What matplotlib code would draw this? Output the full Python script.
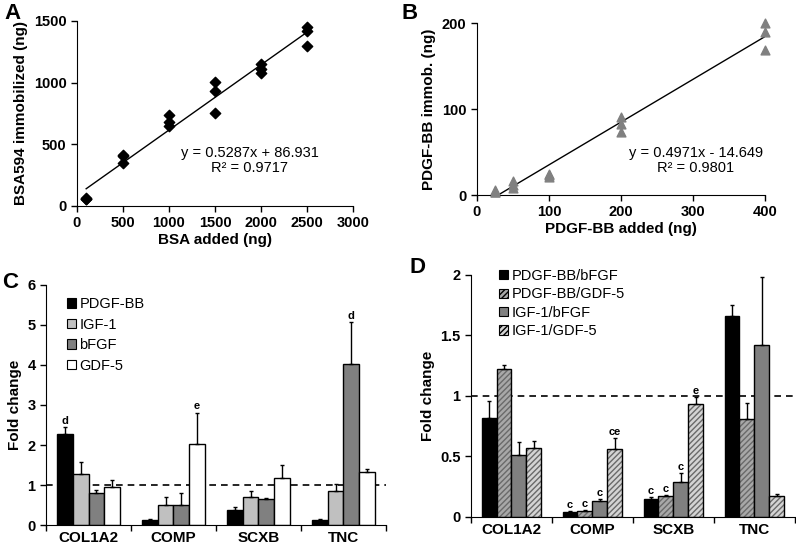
import matplotlib.pyplot as plt
from matplotlib.patches import Patch
import numpy as np

plt.rcParams['font.family'] = ['Liberation Sans', 'DejaVu Sans']

# Panel A: BSA immobilization
a_x = [100, 100, 100, 500, 500, 500, 1000, 1000, 1000, 1500, 1500, 1500, 2000, 2000, 2000, 2500, 2500, 2500]
a_y = [55, 65, 60, 415, 405, 350, 740, 680, 650, 1005, 930, 750, 1150, 1110, 1080, 1455, 1420, 1300]
a_slope, a_icpt = 0.5287, 86.931

# Panel B: PDGF-BB immobilization
b_x = [25, 25, 25, 50, 50, 50, 100, 100, 100, 200, 200, 200, 400, 400, 400]
b_y = [6, 3, 4, 16, 12, 8, 25, 21, 23, 91, 82, 73, 200, 190, 169]
b_slope, b_icpt = 0.4971, -14.649

genes = ['COL1A2', 'COMP', 'SCXB', 'TNC']

# Panel C: single factors
c_series = ['PDGF-BB', 'IGF-1', 'bFGF', 'GDF-5']
c_vals = [[2.27, 0.12, 0.38, 0.12],
          [1.28, 0.50, 0.70, 0.85],
          [0.80, 0.50, 0.65, 4.02],
          [0.95, 2.03, 1.17, 1.33]]
c_err = [[0.18, 0.03, 0.08, 0.03],
         [0.30, 0.21, 0.16, 0.17],
         [0.08, 0.31, 0.03, 1.05],
         [0.18, 0.78, 0.33, 0.06]]
c_marks = [['d', '', '', ''], ['', '', '', ''], ['', '', '', 'd'], ['', 'e', '', '']]

# Panel D: factor combinations
d_series = ['PDGF-BB/bFGF', 'PDGF-BB/GDF-5', 'IGF-1/bFGF', 'IGF-1/GDF-5']
d_vals = [[0.82, 0.04, 0.15, 1.66],
          [1.22, 0.05, 0.17, 0.81],
          [0.51, 0.13, 0.29, 1.42],
          [0.57, 0.56, 0.93, 0.17]]
d_err = [[0.14, 0.01, 0.015, 0.09],
         [0.04, 0.01, 0.008, 0.13],
         [0.11, 0.015, 0.07, 0.56],
         [0.06, 0.09, 0.06, 0.02]]
d_marks = [['', 'c', 'c', ''], ['', 'c', 'c', ''], ['', 'c', 'c', ''], ['', 'ce', 'e', '']]

fig = plt.figure(figsize=(7.96, 5.49), dpi=100)

def style(ax):
    ax.spines['top'].set_visible(False)
    ax.spines['right'].set_visible(False)
    ax.tick_params(direction='out', length=4, width=1, labelsize=10.5)
    for t in ax.get_xticklabels() + ax.get_yticklabels():
        t.set_fontweight('bold')

# ---- A ----
axA = fig.add_axes([0.0967, 0.6248, 0.3467, 0.337])
axA.scatter(a_x, a_y, marker='D', s=28, color='black', zorder=3, clip_on=False)
lx = np.array([min(a_x), max(a_x)])
axA.plot(lx, a_slope * lx + a_icpt, color='black', lw=1)
axA.set_xlim(0, 3000)
axA.set_ylim(0, 1500)
axA.set_xticks([0, 500, 1000, 1500, 2000, 2500, 3000])
axA.set_yticks([0, 500, 1000, 1500])
axA.set_xlabel('BSA added (ng)', fontsize=11, fontweight='bold', labelpad=2)
axA.set_ylabel('BSA594 immobilized (ng)', fontsize=11, fontweight='bold')
axA.text(1880, 370, 'y = 0.5287x + 86.931\nR² = 0.9717', ha='center', va='center',
         fontsize=10.5, linespacing=1.1)
style(axA)

# ---- B ----
axB = fig.add_axes([0.5992, 0.6448, 0.3618, 0.3133])
axB.scatter(b_x, b_y, marker='^', s=40, color='#808080', zorder=3, clip_on=False)
lx = np.array([min(b_x), max(b_x)])
axB.plot(lx, b_slope * lx + b_icpt, color='black', lw=1)
axB.set_xlim(0, 400)
axB.set_ylim(0, 200)
axB.set_xticks([0, 100, 200, 300, 400])
axB.set_yticks([0, 100, 200])
axB.set_xlabel('PDGF-BB added (ng)', fontsize=11, fontweight='bold', labelpad=2)
axB.set_ylabel('PDGF-BB immob. (ng)', fontsize=11, fontweight='bold')
axB.text(304, 40, 'y = 0.4971x - 14.649\nR² = 0.9801', ha='center', va='center',
         fontsize=10.5, linespacing=1.1)
style(axB)

w = 0.185
centers = np.arange(len(genes)) + 0.5

def bars(ax, vals, errs, marks, colors, hatches, labels, mark_pad):
    handles = []
    for i, (v, e, m) in enumerate(zip(vals, errs, marks)):
        x = centers + (i - 1.5) * w
        if hatches[i]:
            ax.bar(x, v, w, color=colors[i], edgecolor='#6a6a6a', linewidth=0, hatch=hatches[i], zorder=2)
            ax.bar(x, v, w, fill=False, edgecolor='black', linewidth=1, zorder=2)
        else:
            ax.bar(x, v, w, color=colors[i], edgecolor='black', linewidth=1, zorder=2)
        ax.errorbar(x, v, yerr=[np.zeros(len(v)), e], fmt='none', ecolor='black',
                    elinewidth=1, capsize=1.5, capthick=1, zorder=3)
        for xi, vi, ei, mi in zip(x, v, e, m):
            if mi:
                ax.text(xi, vi + ei + mark_pad, mi, ha='center', va='bottom',
                        fontsize=8, fontweight='bold')
        handles.append(Patch(facecolor=colors[i], edgecolor='black', hatch=hatches[i],
                             linewidth=0.8, label=labels[i]))
    ax.axhline(1, color='black', lw=1.2, linestyle=(0, (4, 3)), zorder=1)
    ax.set_xlim(0, len(genes))
    ax.set_xticks(np.arange(len(genes) + 1))
    ax.set_xticklabels([])
    ax.set_xticks(centers, minor=True)
    ax.set_xticklabels(genes, minor=True, fontsize=11, fontweight='bold')
    ax.tick_params(axis='x', which='minor', length=0, pad=4)
    ax.set_ylabel('Fold change', fontsize=11, fontweight='bold')
    return handles

# ---- C ----
axC = fig.add_axes([0.0578, 0.0437, 0.4271, 0.4372])
hC = bars(axC, c_vals, c_err, c_marks, ['black', '#c0c0c0', '#808080', 'white'],
          [None, None, None, None], c_series, 0.03)
axC.set_ylim(0, 6)
axC.set_yticks(range(7))
axC.legend(handles=hC, loc='upper left', bbox_to_anchor=(0.04, 0.98), frameon=False,
           fontsize=10.5, handlelength=0.6, handleheight=0.6, handletextpad=0.25,
           labelspacing=0.45, borderpad=0)
style(axC)

# ---- D ----
axD = fig.add_axes([0.5917, 0.0583, 0.407, 0.4408])
hD = bars(axD, d_vals, d_err, d_marks, ['black', '#a8a8a8', '#808080', '#d4d4d4'],
          [None, '//////', None, '//////'], d_series, 0.01)
axD.set_ylim(0, 2)
axD.set_yticks([0, 0.5, 1, 1.5, 2])
axD.set_yticklabels(['0', '0.5', '1', '1.5', '2'])
axD.legend(handles=hD, loc='upper left', bbox_to_anchor=(0.065, 1.055), frameon=False,
           fontsize=10.5, handlelength=0.6, handleheight=0.6, handletextpad=0.25,
           labelspacing=0.3, borderpad=0)
style(axD)

for lab, x, y in [('A', 0.006, 0.975), ('B', 0.505, 0.975), ('C', 0.003, 0.485), ('D', 0.515, 0.512)]:
    fig.text(x, y, lab, fontsize=16, fontweight='bold', va='center')

fig.savefig('out.png', dpi=100)
